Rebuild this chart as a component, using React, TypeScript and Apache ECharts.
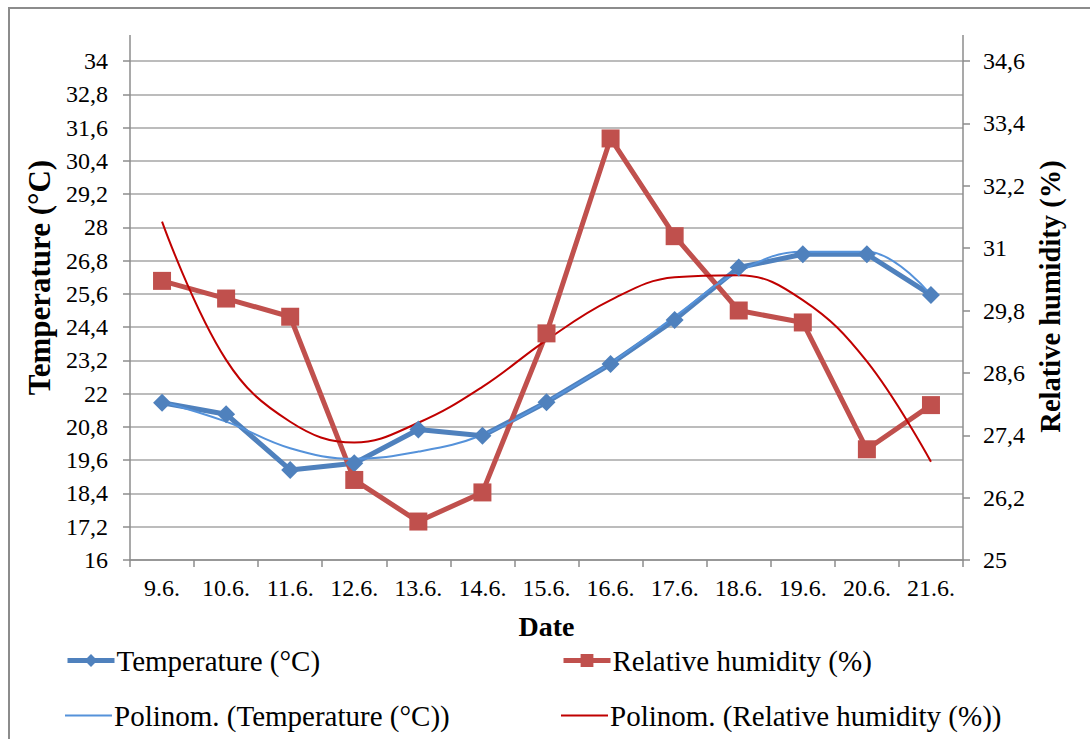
import React, { useEffect, useRef } from "react";
import * as echarts from "echarts";

const categories = ["9.6.", "10.6.", "11.6.", "12.6.", "13.6.", "14.6.", "15.6.", "16.6.", "17.6.", "18.6.", "19.6.", "20.6.", "21.6."];
const temperature = [21.67, 21.26, 19.25, 19.49, 20.71, 20.48, 21.69, 23.07, 24.66, 26.55, 27.03, 27.03, 25.56];
const humidity = [30.37, 30.03, 29.68, 26.54, 25.74, 26.3, 29.36, 33.11, 31.23, 29.8, 29.57, 27.13, 27.98];
const temperatureTrend = [21.71, 20.99, 20.03, 19.65, 19.91, 20.51, 21.71, 23.1, 24.78, 26.4, 27.12, 27.12, 25.56];
const humidityTrend = [31.51, 28.85, 27.66, 27.26, 27.64, 28.33, 29.23, 30.0, 30.44, 30.48, 30.0, 28.82, 26.89];
const leftTicks = [16, 17.2, 18.4, 19.6, 20.8, 22, 23.2, 24.4, 25.6, 26.8, 28, 29.2, 30.4, 31.6, 32.8, 34];
const rightTicks = [25, 26.2, 27.4, 28.6, 29.8, 31, 32.2, 33.4, 34.6];

const FONT = "'Liberation Serif', 'Times New Roman', serif";
const AXIS_COLOR = "#8c8c8c";
const GRID_COLOR = "#a6a6a6";
const BLUE = "#4F81BD";
const RED = "#C0504D";
const BLUE_TREND = "#5592DA";
const RED_TREND = "#C00000";

const fmt = (v: number) => String(v).replace(".", ",");

export default function App() {
  const ref = useRef<HTMLDivElement>(null);
  useEffect(() => {
    document.body.style.margin = "0";
    if (!ref.current) return;
    const chart = echarts.init(ref.current, undefined, { renderer: "svg" });
    const textStyle = { fontSize: 29, fontFamily: FONT, color: "#000", padding: [0, 0, 0, -3] };
    const legendCommon = {
      orient: "horizontal",
      padding: 0,
      itemWidth: 47,
      selectedMode: false,
      textStyle,
    };
    chart.setOption({
      animation: false,
      backgroundColor: "#fff",
      grid: { left: 130, right: 127, top: 61, bottom: 179, outerBoundsMode: "none", containLabel: false },
      graphic: [
        { type: "rect", shape: { x: 9, y: 8, width: 1100, height: 760 }, style: { fill: "none", stroke: "#8c8c8c", lineWidth: 2 }, silent: true },
        { type: "line", shape: { x1: 130, y1: 35, x2: 130, y2: 61 }, style: { stroke: AXIS_COLOR, lineWidth: 1.5 }, silent: true },
        { type: "line", shape: { x1: 963, y1: 35, x2: 963, y2: 61 }, style: { stroke: AXIS_COLOR, lineWidth: 1.5 }, silent: true },
      ],
      legend: [
        { ...legendCommon, itemHeight: 16, lineStyle: { width: 5 }, data: ["Temperature (°C)"], left: 65, top: 646 },
        { ...legendCommon, itemHeight: 16, lineStyle: { width: 5 }, data: ["Relative humidity (%)"], left: 561, top: 646 },
        { ...legendCommon, itemHeight: 2, data: [{ name: "Polinom. (Temperature (°C))", icon: "rect" }], left: 65, top: 701 },
        { ...legendCommon, itemHeight: 2, data: [{ name: "Polinom. (Relative humidity (%))", icon: "rect" }], left: 561, top: 701 },
      ],
      xAxis: {
        type: "category",
        data: categories,
        boundaryGap: true,
        name: "Date",
        nameLocation: "middle",
        nameGap: 52,
        nameTextStyle: { fontSize: 28, fontWeight: "bold", fontFamily: FONT, color: "#000" },
        axisLine: { lineStyle: { color: AXIS_COLOR, width: 1.5 } },
        axisTick: { show: true, length: 7, inside: false, alignWithLabel: false, lineStyle: { color: AXIS_COLOR, width: 1.5 } },
        axisLabel: { fontSize: 24, fontFamily: FONT, color: "#000", margin: 16, interval: 0 },
        splitLine: { show: false },
      },
      yAxis: [
        {
          type: "value",
          min: 16,
          max: 34,
          position: "left",
          name: "Temperature (°C)",
          nameLocation: "middle",
          nameGap: 72,
          nameTextStyle: { fontSize: 31, fontWeight: "bold", fontFamily: FONT, color: "#000", padding: [0, 0, 0, 66] },
          axisLine: { show: true, lineStyle: { color: AXIS_COLOR, width: 1.5 } },
          axisTick: { show: true, length: 7, inside: false, customValues: leftTicks, lineStyle: { color: AXIS_COLOR, width: 1.5 } },
          axisLabel: { fontSize: 24, fontFamily: FONT, color: "#000", margin: 22, customValues: leftTicks, formatter: fmt },
          splitLine: { show: true, lineStyle: { color: GRID_COLOR, width: 1.5 } },
        },
        {
          type: "value",
          min: 25,
          max: 34.6,
          position: "right",
          name: "Relative humidity (%)",
          nameLocation: "middle",
          nameGap: 71,
          nameRotate: 90,
          nameTextStyle: { fontSize: 28.5, fontWeight: "bold", fontFamily: FONT, color: "#000", padding: [0, 0, 0, 28] },
          axisLine: { show: true, lineStyle: { color: AXIS_COLOR, width: 1.5 } },
          axisTick: { show: true, length: 7, inside: false, customValues: rightTicks, lineStyle: { color: AXIS_COLOR, width: 1.5 } },
          axisLabel: { fontSize: 24, fontFamily: FONT, color: "#000", margin: 20, customValues: rightTicks, formatter: fmt },
          splitLine: { show: false },
        },
      ],
      series: [
        {
          name: "Temperature (°C)",
          type: "line",
          yAxisIndex: 0,
          data: temperature,
          symbol: "diamond",
          symbolSize: 18,
          lineStyle: { color: BLUE, width: 5 },
          itemStyle: { color: BLUE },
        },
        {
          name: "Relative humidity (%)",
          type: "line",
          yAxisIndex: 1,
          data: humidity,
          symbol: "rect",
          symbolSize: 18,
          lineStyle: { color: RED, width: 5 },
          itemStyle: { color: RED },
        },
        {
          name: "Polinom. (Temperature (°C))",
          type: "line",
          yAxisIndex: 0,
          data: temperatureTrend,
          smooth: 0.4,
          symbol: "none",
          lineStyle: { color: BLUE_TREND, width: 2 },
          itemStyle: { color: BLUE_TREND },
        },
        {
          name: "Polinom. (Relative humidity (%))",
          type: "line",
          yAxisIndex: 1,
          data: humidityTrend,
          smooth: 0.4,
          symbol: "none",
          lineStyle: { color: RED_TREND, width: 2 },
          itemStyle: { color: RED_TREND },
        },
      ],
    });
    return () => chart.dispose();
  }, []);
  return <div ref={ref} style={{ width: 1090, height: 739 }} />;
}
